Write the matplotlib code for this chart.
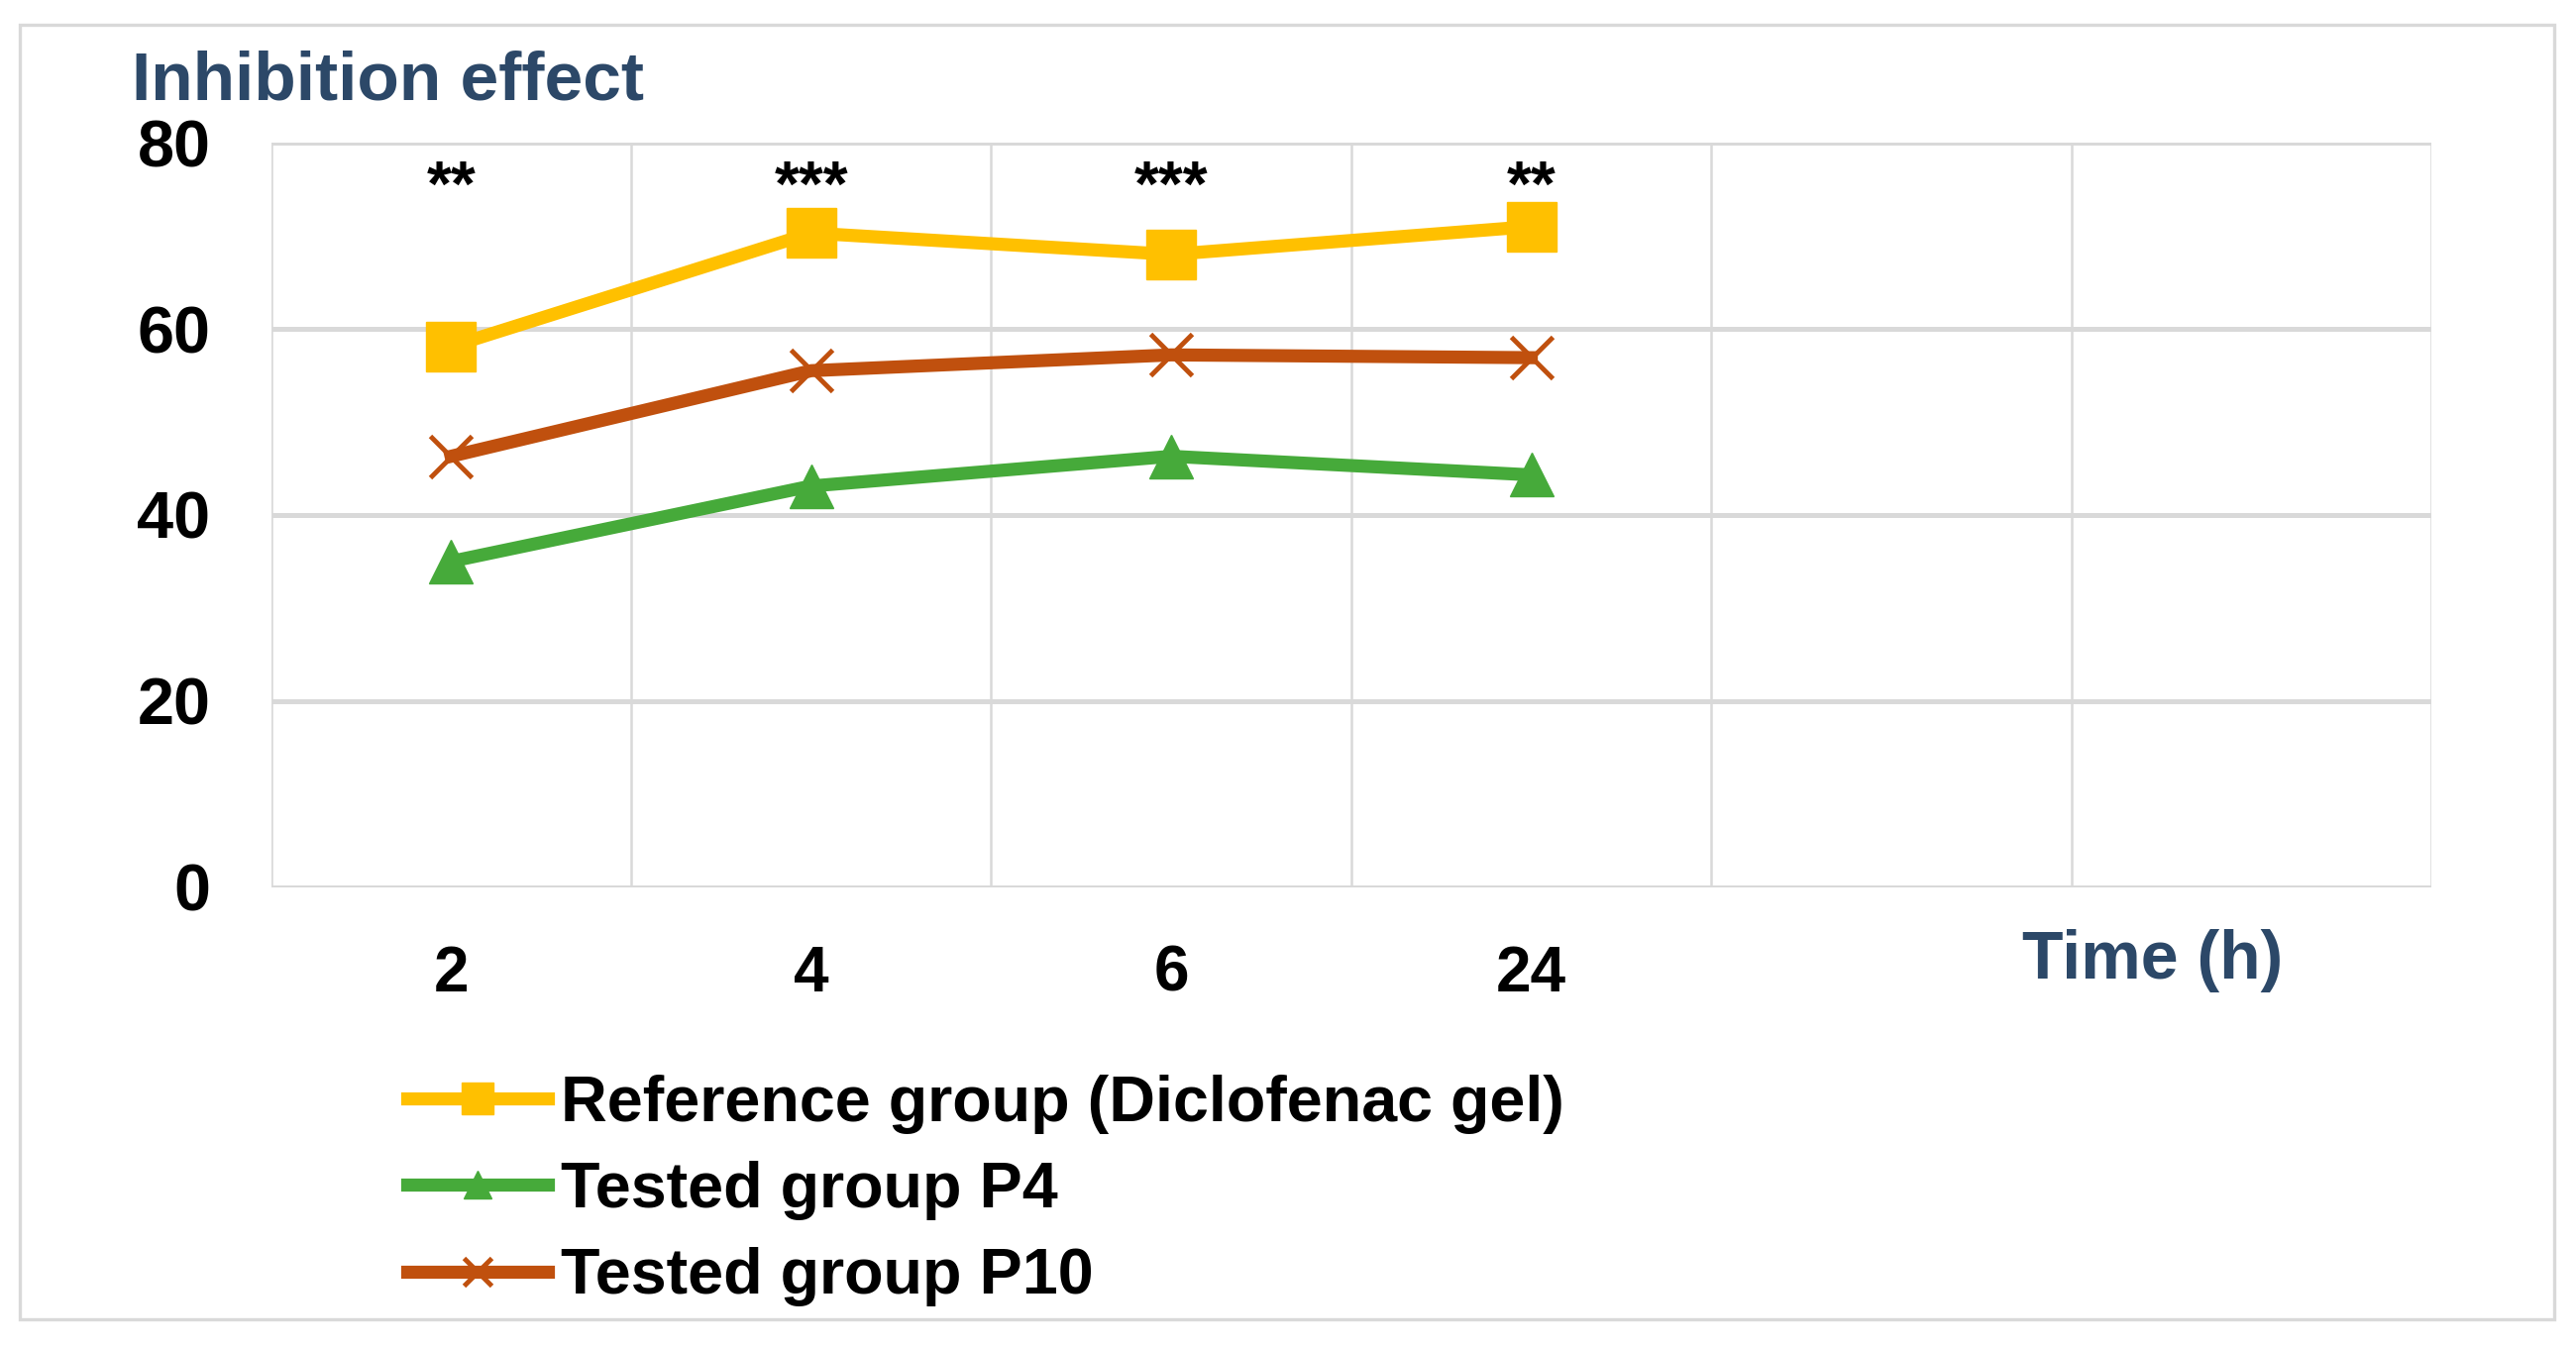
import matplotlib.pyplot as plt
from matplotlib.patches import Rectangle
import numpy as np

plt.rcParams['font.family'] = ['Liberation Sans', 'DejaVu Sans']

# data
time_labels = ["2", "4", "6", "24"]
n_slots = 6
ref_group = [58.1, 70.3, 68.0, 71.0]
p4_group = [35.0, 43.1, 46.3, 44.3]
p10_group = [46.3, 55.5, 57.2, 56.9]
stars = ["**", "***", "***", "**"]

c_ref = "#FFC000"
c_p4 = "#46AA3A"
c_p10 = "#C0500E"
c_title = "#2C4868"
c_grid = "#D9D9D9"

fig = plt.figure(figsize=(26, 13.6), dpi=100)
ax = fig.add_axes([0.1052, 0.3415, 0.9439 - 0.1052, 0.894 - 0.3415])

x = np.arange(len(time_labels))
ax.plot(x, ref_group, color=c_ref, lw=9.5, marker="s", ms=36, label="Reference group (Diclofenac gel)", zorder=5)
ax.plot(x, p4_group, color=c_p4, lw=9.5, marker="^", ms=32, label="Tested group P4", zorder=4)
ax.plot(x, p10_group, color=c_p10, lw=9.5, marker="x", ms=30, mew=3.5, label="Tested group P10", zorder=4)

for xi, s in zip(x, stars):
    ax.text(xi, 75.0, s, ha="center", va="center", fontsize=46, fontweight="bold", color="black")

ax.set_xlim(-0.5, n_slots - 0.5)
ax.set_ylim(0, 80)
ax.set_yticks([0, 20, 40, 60, 80])
ax.set_xticks(x)
ax.set_xticklabels(time_labels)
ax.set_xticks(np.arange(-0.5, n_slots, 1), minor=True)
ax.grid(True, axis="y", which="major", color=c_grid, lw=3.6)
ax.grid(True, axis="x", which="minor", color=c_grid, lw=1.8)
ax.set_axisbelow(True)
for sp in ax.spines.values():
    sp.set_visible(False)
ax.tick_params(axis="both", which="both", length=0)
ax.tick_params(axis="y", pad=44, labelsize=48)
ax.tick_params(axis="x", pad=42, labelsize=46)
for lab in ax.get_xticklabels() + ax.get_yticklabels():
    lab.set_fontweight("bold")

fig.text(0.051, 0.939, "Inhibition effect", color=c_title, fontsize=50, fontweight="bold", ha="left", va="center")
fig.text(0.8355, 0.2866, "Time (h)", color=c_title, fontsize=49, fontweight="bold", ha="center", va="center")

fig.legend(loc="upper left", bbox_to_anchor=(0.1458, 0.226), frameon=False,
           prop={"weight": "bold", "size": 46.5}, handlelength=2.2, handletextpad=0.2,
           labelspacing=0.42, markerscale=0.65, borderpad=0)

fig.patches.append(Rectangle((0.0077, 0.0207), 0.984, 0.961, transform=fig.transFigure,
                             fill=False, edgecolor=c_grid, lw=2.4))

fig.savefig("out.png", dpi=100, facecolor="white")
